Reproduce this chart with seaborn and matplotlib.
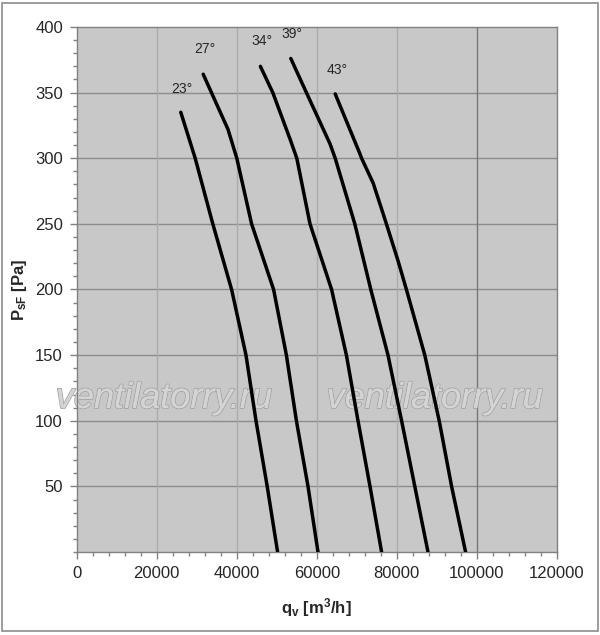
import matplotlib
matplotlib.use("Agg")
import matplotlib.pyplot as plt
import matplotlib.patheffects as pe
import numpy as np
import pandas as pd
import seaborn as sns
from matplotlib.patches import Rectangle
from matplotlib.ticker import MultipleLocator

# fan curves: flow q_v [m3/h] vs static pressure P_sF [Pa]
ANGLES = ["23°", "27°", "34°", "39°", "43°"]

Q_23 = [26000, 29600, 34000, 38700, 42300, 44800, 47600, 50200]
P_23 = [335, 300, 250, 200, 150, 100, 50, 0]

Q_27 = [31600, 37800, 40000, 43700, 49200, 52400, 54900, 57800, 60300]
P_27 = [364, 322, 300, 250, 200, 150, 100, 50, 0]

Q_34 = [45900, 49000, 53500, 55000, 58300, 63700, 67400, 70300, 73300, 76200]
P_34 = [370, 350, 313, 300, 250, 200, 150, 100, 50, 0]

Q_39 = [53500, 57400, 63300, 64600, 69500, 73500, 77800, 81200, 84500, 87800]
P_39 = [376, 350, 311, 300, 250, 200, 150, 100, 50, 0]

Q_43 = [64600, 70700, 71200, 74100, 77400, 80300, 82400, 87000, 90600, 93700, 97200]
P_43 = [349, 304, 300, 281, 250, 222, 200, 150, 100, 50, 0]

# label anchor points (data coords)
LABEL_Q = [26300, 32000, 46200, 53800, 65000]
LABEL_P = [353, 383, 389, 395, 367]

rows = []
for ang, qs, ps in zip(ANGLES, [Q_23, Q_27, Q_34, Q_39, Q_43],
                       [P_23, P_27, P_34, P_39, P_43]):
    for q, p in zip(qs, ps):
        rows.append((ang, q, p))
df = pd.DataFrame(rows, columns=["angle", "q", "p"])

sns.set_style("white")
plt.rcParams["font.family"] = ["Liberation Sans", "DejaVu Sans"]
plt.rcParams["mathtext.fontset"] = "custom"
plt.rcParams["mathtext.rm"] = "Liberation Sans"
plt.rcParams["mathtext.bf"] = "Liberation Sans:bold"
plt.rcParams["mathtext.it"] = "Liberation Sans:italic"

fig = plt.figure(figsize=(6, 6.35), dpi=100)
ax = fig.add_axes([0.128, 0.1307, 0.8, 0.8268])
ax.set_facecolor("#c8c8c8")

# grid
for yv in range(50, 400, 50):
    ax.axhline(yv, color="#8c8c8c", lw=1.0, zorder=1)
for xv in range(20000, 120000, 20000):
    ax.axvline(xv, color="#777777" if xv == 100000 else "#acacac", lw=1.0, zorder=1)

# watermark
for wx in [21800, 89500]:
    ax.text(wx, 117, "ventilatorry.ru", fontsize=26, style="italic", color="#d4d4d4",
            ha="center", va="center", zorder=2, clip_on=False,
            path_effects=[pe.withStroke(linewidth=1.3, foreground="#a4a4a4"),
                          pe.Normal()])

sns.lineplot(data=df, x="q", y="p", hue="angle", palette=["black"] * 5,
             sort=False, estimator=None, legend=False, lw=2.5, ax=ax, zorder=3)

for lab, lq, lp in zip(ANGLES, LABEL_Q, LABEL_P):
    ax.text(lq, lp, lab, fontsize=10, ha="center", va="center", zorder=4)

ax.set_xlim(0, 120000)
ax.set_ylim(0, 400)
ax.set_xticks(range(0, 120001, 20000))
ax.set_yticks(range(50, 401, 50))
ax.xaxis.set_minor_locator(MultipleLocator(4000))
ax.yaxis.set_minor_locator(MultipleLocator(10))
ax.tick_params(axis="both", which="major", direction="out", length=5, width=1,
               color="#808080", labelsize=12, pad=5, bottom=True, left=True)
ax.tick_params(axis="both", which="minor", direction="out", length=3, width=1,
               color="#808080", bottom=True, left=True)
for s in ax.spines.values():
    s.set_color("#808080")
    s.set_linewidth(1.0)

ax.set_xlabel(r"$\mathbf{q_v\ [m^3/h]}$", fontsize=12, labelpad=11)
ax.set_ylabel(r"$\mathbf{P_{sF}\ [Pa]}$", fontsize=12, labelpad=4)

fig.patches.append(Rectangle((0.004, 0.006), 0.992, 0.99, transform=fig.transFigure,
                             fill=False, edgecolor="#8c8c8c", lw=1.2))

fig.savefig("out.png", dpi=100)
